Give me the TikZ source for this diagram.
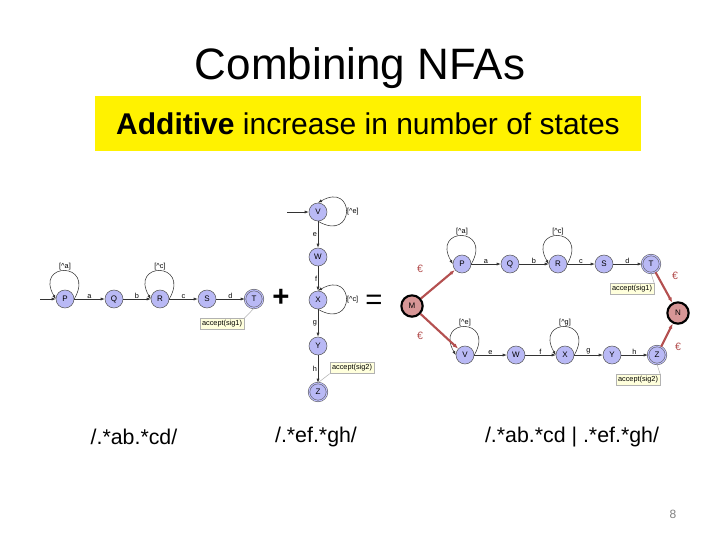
\documentclass[tikz,border=0pt]{standalone}
\usepackage{fontspec}
\setmainfont{Liberation Sans}
\usetikzlibrary{arrows.meta}
\definecolor{st}{RGB}{185,185,245}
\definecolor{mr}{RGB}{215,150,150}
\definecolor{er}{RGB}{180,80,80}
\definecolor{nt}{RGB}{255,255,220}
\tikzset{
 s/.style={circle,draw=gray!70!black,fill=st,minimum size=13.5pt,inner sep=0pt,font=\fontsize{6}{6}\selectfont},
 acc/.style={s,double=st,double distance=0.8pt},
 big/.style={circle,draw=black,line width=1.6pt,fill=mr,minimum size=16pt,inner sep=0pt,font=\fontsize{6}{6}\selectfont},
 tr/.style={-{Latex[length=3pt]},draw=black!80,line width=0.4pt},
 eps/.style={-{Latex[length=4pt]},draw=er,line width=1.6pt},
 lb/.style={font=\fontsize{5.5}{6}\selectfont,inner sep=0.5pt},
 el/.style={font=\fontsize{8}{8}\selectfont,text=er},
 note/.style={draw=gray!60,fill=nt,font=\fontsize{5.5}{6}\selectfont,inner sep=1.5pt},
 bt/.style={font=\fontsize{16}{16}\selectfont},
 lp/.style={tr,looseness=6}
}
\begin{document}
\begin{tikzpicture}[x=0.75pt,y=-0.75pt]
\useasboundingbox (0,0) rectangle (720,540);
\node[font=\fontsize{33}{33}\selectfont] (title) at (360,68) {Combining NFAs};
\node[fill=yellow,minimum width=409.5pt,minimum height=41pt,font=\fontsize{22.5}{22.5}\selectfont] (sub) at (368,123.5) {\textbf{Additive} increase in number of states};
% left
\foreach \n/\x in {P/65,Q/114,R/160,S/207}{\node[s] (L\n) at (\x,299) {\n};}
\node[acc] (LT) at (254,299) {T};
\coordinate (Ls) at (40,299);
\draw[tr] (Ls) -- (LP);
\draw[tr] (LP) -- node[lb,above]{a} (LQ);
\draw[tr] (LQ) -- node[lb,above]{b} (LR);
\draw[tr] (LR) -- node[lb,above]{c} (LS);
\draw[tr] (LS) -- node[lb,above]{d} (LT);
\draw[lp] (LP.east) to[out=60,in=120] node[lb,above]{[\^{}a]} (LP.west);
\draw[lp] (LR.east) to[out=60,in=120] node[lb,above]{[\^{}c]} (LR.west);
\node[note] (n1) at (222,324) {accept(sig1)};
\draw[gray!60] (n1.north east) -- (LT.south);
\node[font=\fontsize{22}{22}\selectfont\bfseries] (plus) at (281,298) {+};
% middle
\foreach \n/\y in {V/212,W/257,X/300,Y/346}{\node[s] (M\n) at (318,\y) {\n};}
\node[acc] (MZ) at (318,392) {Z};
\coordinate (Ms) at (287,212);
\draw[tr] (Ms) -- (MV);
\draw[tr] (MV) -- node[lb,left]{e} (MW);
\draw[tr] (MW) -- node[lb,left]{f} (MX);
\draw[tr] (MX) -- node[lb,left]{g} (MY);
\draw[tr] (MY) -- node[lb,left]{h} (MZ);
\draw[lp] (MV.south) to[out=-30,in=30] node[lb,right]{[\^{}e]} (MV.north);
\draw[lp] (MX.south) to[out=-30,in=30] node[lb,right]{[\^{}c]} (MX.north);
\node[note] (n2) at (352,368) {accept(sig2)};
\draw[gray!60] (n2.south west) -- (MZ.north);
\node[font=\fontsize{22}{22}\selectfont] (eq) at (374,302) {=};
% right
\node[big] (M) at (412,306) {M};
\node[big] (N) at (678,313) {N};
\foreach \n/\x in {P/462,Q/510,R/558,S/604}{\node[s] (A\n) at (\x,264) {\n};}
\node[acc] (AT) at (651,264) {T};
\foreach \n/\x in {V/465,W/516,X/565,Y/612}{\node[s] (B\n) at (\x,355) {\n};}
\node[acc] (BZ) at (657,355) {Z};
\draw[tr] (AP) -- node[lb,above]{a} (AQ);
\draw[tr] (AQ) -- node[lb,above]{b} (AR);
\draw[tr] (AR) -- node[lb,above]{c} (AS);
\draw[tr] (AS) -- node[lb,above]{d} (AT);
\draw[tr] (BV) -- node[lb,above]{e} (BW);
\draw[tr] (BW) -- node[lb,above]{f} (BX);
\draw[tr] (BX) -- node[lb,above]{g} (BY);
\draw[tr] (BY) -- node[lb,above]{h} (BZ);
\draw[lp] (AP.east) to[out=60,in=120] node[lb,above]{[\^{}a]} (AP.west);
\draw[lp] (AR.east) to[out=60,in=120] node[lb,above]{[\^{}c]} (AR.west);
\draw[lp] (BV.east) to[out=60,in=120] node[lb,above]{[\^{}e]} (BV.west);
\draw[lp] (BX.east) to[out=60,in=120] node[lb,above]{[\^{}g]} (BX.west);
\draw[eps] (M) -- (AP);
\draw[eps] (M) -- (BV);
\draw[eps] (AT) -- (N);
\draw[eps] (BZ) -- (N);
\node[el] (e1) at (420,269) {€};
\node[el] (e2) at (420,336) {€};
\node[el] (e3) at (675,276) {€};
\node[el] (e4) at (678,347) {€};
\node[note] (n3) at (632,289) {accept(sig1)};
\draw[gray!60] (n3.north east) -- (AT.south);
\node[note] (n4) at (638,380) {accept(sig2)};
\draw[gray!60] (n4.north east) -- (BZ.south);
% bottom
\node[bt] (r1) at (134,437) {/.*ab.*cd/};
\node[bt] (r2) at (316,437) {/.*ef.*gh/};
\node[bt] (r3) at (572,437) {/.*ab.*cd | .*ef.*gh/};
\node[font=\fontsize{9}{9}\selectfont,text=gray] (pg) at (673,514) {8};
\end{tikzpicture}
\end{document}
